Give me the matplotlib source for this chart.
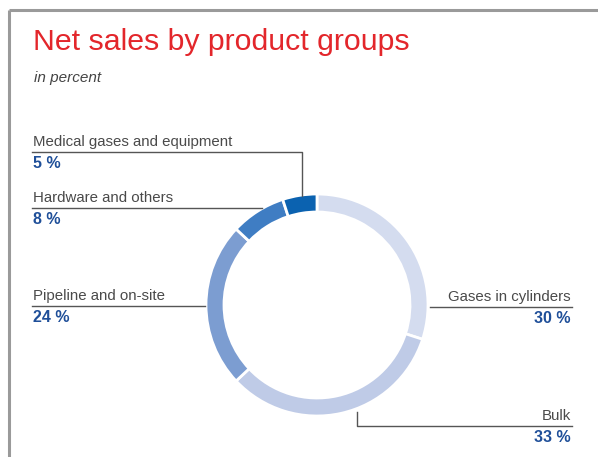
"""
Net sales by product groups - donut chart with leader-line labels
"""

import matplotlib.pyplot as plt

plt.rcParams['font.family'] = ['Liberation Sans', 'DejaVu Sans']

# data
groups = ['Gases in cylinders', 'Bulk', 'Pipeline and on-site',
          'Hardware and others', 'Medical gases and equipment']
shares = [30, 33, 24, 8, 5]
colors = ['#d4dcef', '#bfcbe7', '#7c9dd1', '#3f7dc3', '#0b62b0']

W, H = 598, 457
fig = plt.figure(figsize=(W / 100, H / 100), dpi=100)
ax = fig.add_axes([0, 0, 1, 1])

# donut, centre in pixel coords (y measured from the bottom)
cx, cy = 317, H - 305
ax.pie(shares, colors=colors, startangle=90, counterclock=False,
       center=(cx, cy), radius=111, frame=True,
       wedgeprops=dict(width=18, edgecolor='white', linewidth=2))

ax.set_xlim(0, W)
ax.set_ylim(0, H)
ax.set_aspect('equal')
ax.axis('off')

# frame lines (top and left)
ax.plot([9, W], [H - 10, H - 10], color='#9a9a9a', lw=2.2, solid_capstyle='butt')
ax.plot([9, 9], [H - 10, 0], color='#9a9a9a', lw=2.2, solid_capstyle='butt')

# title
ax.text(33, H - 50, 'Net sales by product groups', color='#e3262b', fontsize=21.8)
ax.text(34, H - 82, 'in percent', color='#444444', fontsize=11, style='italic')

lab_col = '#4a4a4a'
pct_col = '#1f4f99'
line_col = '#555555'

def label(x, y_line, name, pct, ha='left'):
    ax.text(x, H - y_line + 3, name, color=lab_col, fontsize=10.8, ha=ha, va='bottom')
    ax.text(x, H - y_line - 4, f'{pct} %', color=pct_col, fontsize=11.5,
            fontweight='bold', ha=ha, va='top')

# leader lines
ax.plot([32, 302, 302], [H - 152, H - 152, H - 196], color=line_col, lw=1)
ax.plot([32, 262], [H - 208, H - 208], color=line_col, lw=1)
ax.plot([32, 205], [H - 306, H - 306], color=line_col, lw=1)
ax.plot([430, 572], [H - 307, H - 307], color=line_col, lw=1)
ax.plot([357, 357, 572], [H - 412, H - 426, H - 426], color=line_col, lw=1)

label(33, 152, groups[4], shares[4])
label(33, 208, groups[3], shares[3])
label(33, 306, groups[2], shares[2])
label(571, 307, groups[0], shares[0], ha='right')
label(571, 426, groups[1], shares[1], ha='right')

fig.savefig('out.png', dpi=100)
